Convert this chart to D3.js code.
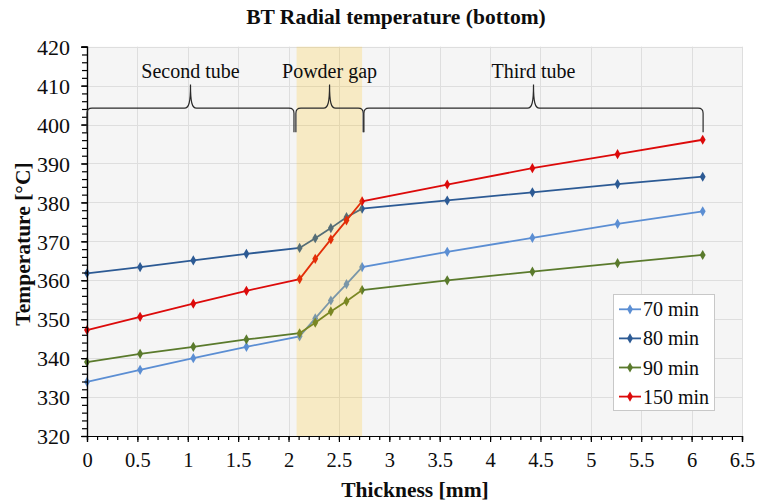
<!DOCTYPE html>
<html>
<head>
<meta charset="utf-8">
<script src="https://cdn.jsdelivr.net/npm/d3@7"></script>
<style>
  html, body { margin: 0; padding: 0; background: #ffffff; }
  svg { display: block; font-family: "Liberation Serif", "Times New Roman", serif; }
</style>
</head>
<body>
<svg id="chart" width="757" height="504"></svg>
<script>
// Radial positions across the wall (mm)
const thickness = [0, 0.527, 1.055, 1.582, 2.11, 2.265, 2.42, 2.575, 2.73, 3.575, 4.42, 5.265, 6.11];

// Temperatures (°C) at each radial position, one list per heating time
const seriesNames = ["70 min", "80 min", "90 min", "150 min"];
const temp70  = [333.9, 337.0, 340.0, 342.9, 345.6, 350.2, 354.8, 359.0, 363.4, 367.3, 370.9, 374.5, 377.7];
const temp80  = [361.8, 363.4, 365.1, 366.8, 368.3, 370.8, 373.4, 376.2, 378.4, 380.5, 382.6, 384.7, 386.6];
const temp90  = [339.0, 341.1, 342.9, 344.8, 346.4, 349.1, 352.0, 354.6, 357.5, 360.0, 362.2, 364.4, 366.5];
const temp150 = [347.2, 350.6, 354.0, 357.3, 360.3, 365.5, 370.5, 375.4, 380.3, 384.6, 388.8, 392.4, 396.1];
const seriesColors = ["#5b8ed3", "#2c5a94", "#5a7a2c", "#dc0a0a"];

// Axis ticks
const xTicks = [0, 0.5, 1, 1.5, 2, 2.5, 3, 3.5, 4, 4.5, 5, 5.5, 6, 6.5];
const yTicks = [320, 330, 340, 350, 360, 370, 380, 390, 400, 410, 420];

// Layer regions (mm) and their brace labels
const gapBand = [2.08, 2.73];
const regionNames = ["Second tube", "Powder gap", "Third tube"];
const regionStart = [0, 2.073, 2.748];
const regionEnd   = [2.054, 2.741, 6.114];

const svg = d3.select("#chart");
const plotL = 87, plotR = 742, plotT = 46.7, plotB = 436;
const x = d3.scaleLinear().domain([0, 6.5]).range([plotL, plotR]);
const y = d3.scaleLinear().domain([320, 420]).range([plotB, plotT]);
const ink = "#0d0d0d";

// Plot background
svg.append("rect")
  .attr("x", plotL).attr("y", plotT)
  .attr("width", plotR - plotL).attr("height", plotB - plotT)
  .attr("fill", "#f5f5f5");

// Grid
const grid = svg.append("g").attr("stroke", "#dedede").attr("stroke-width", 1);
grid.selectAll("line.v").data(xTicks.slice(1)).join("line")
  .attr("x1", d => Math.round(x(d)) + 0.5).attr("x2", d => Math.round(x(d)) + 0.5)
  .attr("y1", plotT).attr("y2", plotB);
grid.selectAll("line.h").data(yTicks.slice(1)).join("line")
  .attr("y1", d => Math.round(y(d)) + 0.5).attr("y2", d => Math.round(y(d)) + 0.5)
  .attr("x1", plotL).attr("x2", plotR);

// Series
const series = [temp70, temp80, temp90, temp150].map((vals, i) => ({
  name: seriesNames[i], color: seriesColors[i],
  points: vals.map((v, j) => [thickness[j], v])
}));
const line = d3.line().x(d => x(d[0])).y(d => y(d[1]));
const diamond = d3.symbol().type(d3.symbolDiamond).size(30);

const sg = svg.append("g").selectAll("g").data(series).join("g");
sg.append("path")
  .attr("d", d => line(d.points))
  .attr("fill", "none")
  .attr("stroke", d => d.color)
  .attr("stroke-width", 1.8);
sg.each(function(s) {
  d3.select(this).selectAll("path.m").data(s.points).join("path")
    .attr("class", "m")
    .attr("d", diamond)
    .attr("transform", d => `translate(${x(d[0])},${y(d[1])})`)
    .attr("fill", s.color);
});

// Powder gap band (translucent, over the lines)
svg.append("rect")
  .attr("x", x(gapBand[0])).attr("y", plotT)
  .attr("width", x(gapBand[1]) - x(gapBand[0]))
  .attr("height", plotB - plotT)
  .attr("fill", "rgb(255,192,0)")
  .attr("fill-opacity", 0.2);

// Axes
function styleAxis(g) {
  g.attr("font-family", null).attr("font-size", null);
  g.select(".domain").attr("stroke", "#000").attr("stroke-width", 1.2);
  g.selectAll(".tick line").attr("stroke", "#000").attr("stroke-width", 1.2);
}
const fmt = d3.format("~g");

svg.append("g")
  .attr("transform", `translate(0,${plotB})`)
  .call(d3.axisBottom(x).tickValues(d3.range(0, 66, 1).map(d => d / 10)).tickSize(4).tickFormat(""))
  .call(styleAxis);
const xAxis = svg.append("g")
  .attr("transform", `translate(0,${plotB})`)
  .call(d3.axisBottom(x).tickValues(xTicks).tickSize(6).tickFormat(fmt))
  .call(styleAxis);
xAxis.selectAll(".tick text")
  .attr("y", 31).attr("dy", null)
  .attr("font-size", 20.5).attr("fill", ink);

svg.append("g")
  .attr("transform", `translate(${plotL},0)`)
  .call(d3.axisLeft(y).tickValues(d3.range(320, 421, 2)).tickSize(5).tickFormat(""))
  .call(styleAxis);
const yAxis = svg.append("g")
  .attr("transform", `translate(${plotL},0)`)
  .call(d3.axisLeft(y).tickValues(yTicks).tickSize(6).tickFormat(fmt))
  .call(styleAxis);
yAxis.selectAll(".tick text")
  .attr("x", -17).attr("dy", "0.35em")
  .attr("font-size", 22).attr("fill", ink);

// Braces marking the wall layers
const braceLine = 404.2, braceFoot = 398.0, bracePeak = 410.3;
function bracePath(x0, x1) {
  const a = x(x0), b = x(x1), m = (a + b) / 2;
  const yh = y(braceLine), yf = y(braceFoot), yp = y(bracePeak);
  const r = 5;
  return `M${a},${yf} L${a},${yh + r} Q${a},${yh} ${a + r},${yh}` +
         ` L${m - 6},${yh} C${m - 1.5},${yh} ${m},${yh - 6} ${m},${yp}` +
         ` C${m},${yh - 6} ${m + 1.5},${yh} ${m + 6},${yh}` +
         ` L${b - r},${yh} Q${b},${yh} ${b},${yh + r} L${b},${yf}`;
}
const braces = svg.append("g");
regionNames.forEach((name, i) => {
  braces.append("path")
    .attr("d", bracePath(regionStart[i], regionEnd[i]))
    .attr("fill", "none")
    .attr("stroke", "#2a2a2a")
    .attr("stroke-width", 1.2);
  braces.append("text")
    .attr("x", (x(regionStart[i]) + x(regionEnd[i])) / 2)
    .attr("y", y(bracePeak) - 6)
    .attr("text-anchor", "middle")
    .attr("font-size", 20)
    .attr("fill", ink)
    .text(name);
});

// Legend
const lg = svg.append("g");
lg.append("rect")
  .attr("x", 613.5).attr("y", 294.5).attr("width", 101).attr("height", 116)
  .attr("fill", "#ffffff").attr("stroke", "#c8c8c8").attr("stroke-width", 1);
series.forEach((s, i) => {
  const cy = 309.3 + i * 29.1;
  lg.append("line").attr("x1", 619).attr("x2", 641).attr("y1", cy).attr("y2", cy)
    .attr("stroke", s.color).attr("stroke-width", 1.8);
  lg.append("path").attr("d", diamond).attr("transform", `translate(630,${cy})`).attr("fill", s.color);
  lg.append("text").attr("x", 643).attr("y", cy).attr("dy", "0.35em")
    .attr("font-size", 20).attr("fill", ink).text(s.name);
});

// Titles
svg.append("text")
  .attr("x", 396).attr("y", 24)
  .attr("text-anchor", "middle")
  .attr("font-size", 21.5).attr("font-weight", "bold").attr("fill", ink)
  .text("BT Radial temperature (bottom)");
svg.append("text")
  .attr("x", 415).attr("y", 497)
  .attr("text-anchor", "middle")
  .attr("font-size", 21.5).attr("font-weight", "bold").attr("fill", ink)
  .text("Thickness [mm]");
svg.append("text")
  .attr("transform", `translate(30,244) rotate(-90)`)
  .attr("text-anchor", "middle")
  .attr("font-size", 21.5).attr("font-weight", "bold").attr("fill", ink)
  .text("Temperature [°C]");
</script>
</body>
</html>
